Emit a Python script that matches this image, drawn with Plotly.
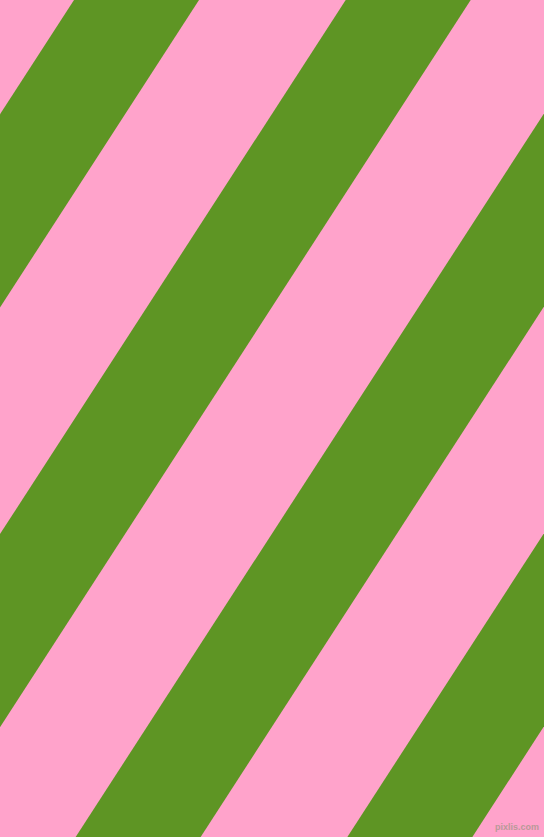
import plotly.graph_objects as go

# Pattern description (stripe x-intercepts along the top edge, in pixels)
stripe_top_starts = [74.0, 345.7, 617.4, 889.1]
stripe_width = 125.0
slope = 1.545            # dy/dx of stripe edges (downward-left)
canvas_w = 544
canvas_h = 837
pink = "#FFA3CB"
green = "#5E9524"
watermark = "pixlis.com"

fig = go.Figure()
for c in stripe_top_starts:
    dx = canvas_h / slope
    xs = [c, c + stripe_width, c + stripe_width - dx, c - dx, c]
    ys = [0, 0, canvas_h, canvas_h, 0]
    fig.add_trace(go.Scatter(x=xs, y=ys, mode="lines", fill="toself",
                             fillcolor=green, line=dict(width=0, color=green),
                             hoverinfo="skip", showlegend=False))

fig.add_annotation(text=watermark, x=541, y=826.5, xref="x", yref="y",
                   xanchor="right", yanchor="middle", showarrow=False,
                   font=dict(family="Liberation Sans", size=9, color="#B89A98",
                             weight="bold"))

fig.update_layout(width=canvas_w, height=canvas_h,
                  margin=dict(l=0, r=0, t=0, b=0),
                  paper_bgcolor=pink, plot_bgcolor=pink,
                  xaxis=dict(range=[0, canvas_w], visible=False, fixedrange=True),
                  yaxis=dict(range=[canvas_h, 0], visible=False, fixedrange=True),
                  showlegend=False)
fig.write_html("out.html", config={"displayModeBar": False},
               post_script="document.body.style.margin='0';document.body.style.overflow='hidden';")
